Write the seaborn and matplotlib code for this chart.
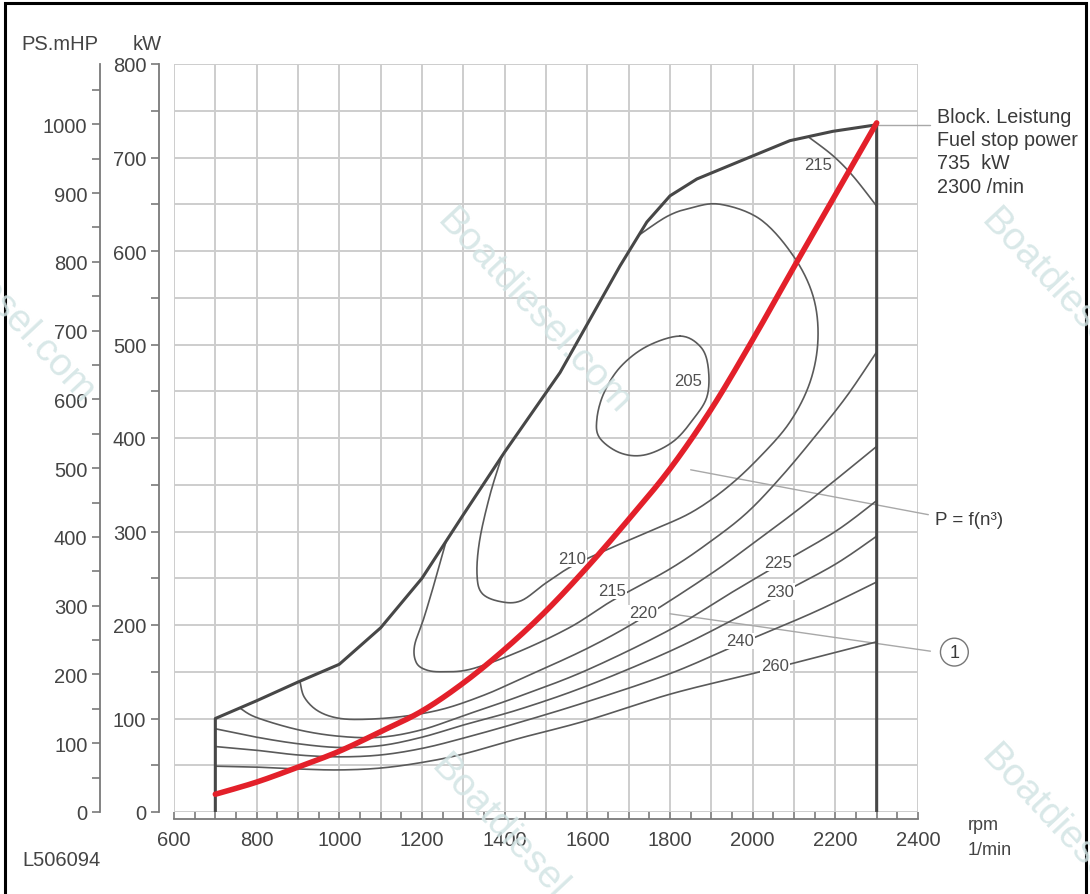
import numpy as np
import matplotlib
matplotlib.use('Agg')
import matplotlib.pyplot as plt
from matplotlib.ticker import MultipleLocator
import seaborn as sns

# full load (fuel stop) boundary, rpm / kW
full_rpm = [700, 700, 800, 900, 1000, 1100, 1200, 1300, 1400, 1534, 1679, 1744, 1800, 1865, 1969, 2090, 2194, 2300, 2300]
full_kw = [0, 100, 119, 139, 158, 197, 250, 318, 385, 470, 584, 631, 659, 677, 696, 718, 728, 735, 0]

# propeller curve P = f(n^3) (red)
prop_rpm = [700, 800, 900, 1000, 1100, 1200, 1300, 1400, 1500, 1600, 1700, 1800, 1900, 2000, 2100, 2200, 2300]
prop_kw = [19, 32, 48, 65, 86, 108, 138, 174, 215, 262, 313, 367, 431, 505, 583, 660, 737]

# specific fuel consumption lines (g/kWh)
c205_rpm = [1824, 1873, 1892, 1890, 1856, 1807, 1740, 1680, 1630, 1623, 1640, 1680, 1744, 1824]
c205_kw = [509, 498, 477, 445, 420, 396, 382, 384, 400, 420, 448, 476, 498, 509]

c210_rpm = [1393, 1365, 1340, 1333, 1345, 1390, 1440, 1500, 1563, 1650, 1744, 1850, 1938, 2018, 2090, 2139, 2158, 2146, 2098, 2018, 1921, 1850, 1793, 1725]
c210_kw = [380, 340, 292, 255, 234, 225, 226, 245, 263, 281, 299, 320, 347, 380, 417, 460, 506, 552, 595, 634, 650, 646, 637, 617]

c215_rpm = [1258, 1232, 1205, 1182, 1186, 1210, 1250, 1320, 1437, 1560, 1660, 1800, 1900, 1986, 2066, 2146, 2228, 2300]
c215_kw = [289, 248, 208, 178, 160, 152, 150, 153, 172, 198, 226, 260, 290, 320, 357, 399, 445, 492]

c215b_rpm = [2135, 2194, 2243, 2300]
c215b_kw = [722, 702, 680, 648]

c220_rpm = [905, 915, 945, 990, 1050, 1150, 1250, 1350, 1437, 1600, 1735, 1900, 2000, 2100, 2200, 2300]
c220_kw = [139, 123, 109, 101, 99, 102, 110, 125, 142, 175, 208, 255, 287, 320, 355, 391]

c225_rpm = [760, 800, 900, 1000, 1100, 1200, 1300, 1437, 1600, 1800, 1950, 2061, 2200, 2300]
c225_kw = [111, 101, 88, 81, 80, 88, 103, 124, 152, 195, 235, 264, 300, 333]

c230_rpm = [700, 800, 900, 1000, 1100, 1200, 1300, 1437, 1600, 1800, 1950, 2066, 2200, 2300]
c230_kw = [89, 80, 73, 69, 71, 80, 93, 110, 135, 172, 205, 233, 265, 295]

c240_rpm = [700, 800, 900, 1000, 1100, 1200, 1300, 1437, 1600, 1800, 1969, 2150, 2300]
c240_kw = [70, 66, 61, 59, 61, 68, 79, 96, 118, 148, 180, 214, 246]

c260_rpm = [700, 800, 900, 1000, 1100, 1200, 1300, 1437, 1600, 1800, 2000, 2150, 2300]
c260_kw = [49, 48, 46, 45, 47, 53, 62, 79, 98, 126, 148, 165, 182]

# contour labels
lab_text = ['205', '210', '215', '220', '225', '230', '240', '260', '215']
lab_rpm = [1844, 1563, 1660, 1735, 2061, 2066, 1969, 2054, 2158]
lab_kw = [461, 271, 237, 213, 267, 236, 183, 157, 693]
lab_box = [False, True, True, True, True, True, True, True, False]

x_ticks = [600, 800, 1000, 1200, 1400, 1600, 1800, 2000, 2200, 2400]
kw_ticks = [0, 100, 200, 300, 400, 500, 600, 700, 800]
ps_ticks = [0, 100, 200, 300, 400, 500, 600, 700, 800, 900, 1000]

block_text = 'Block. Leistung\nFuel stop power\n735  kW\n2300 /min'
watermark = 'Boatdiesel.com'


def smooth(xs, ys, closed=False, n=16):
    # catmull-rom through the read points, for drawing only
    pts = np.column_stack([xs, ys]).astype(float)
    if closed:
        p = np.vstack([pts[-2], pts, pts[1]])
    else:
        p = np.vstack([pts[0], pts, pts[-1]])
    out = []
    t = np.linspace(0, 1, n, endpoint=False)[:, None]
    for i in range(1, len(p) - 2):
        p0, p1, p2, p3 = p[i - 1], p[i], p[i + 1], p[i + 2]
        seg = 0.5 * (2 * p1 + (-p0 + p2) * t + (2 * p0 - 5 * p1 + 4 * p2 - p3) * t ** 2
                     + (-p0 + 3 * p1 - 3 * p2 + p3) * t ** 3)
        out.append(seg)
    out.append(pts[-1:])
    out = np.vstack(out)
    return out[:, 0], out[:, 1]


sns.set_theme(style='white')
plt.rcParams['font.family'] = ['Liberation Sans', 'DejaVu Sans']

W, H = 1090, 895
fig = plt.figure(figsize=(W / 100, H / 100), dpi=100)
fig.patch.set_facecolor('white')
ax = fig.add_axes([174 / W, 1 - 813 / H, 744 / W, 748 / H])
ax.set_xlim(600, 2400)
ax.set_ylim(0, 800)

grid_c = '#cdcdcd'
ax.vlines(np.arange(600, 2401, 100), 0, 800, color=grid_c, lw=1.4, zorder=1)
ax.hlines(np.arange(0, 801, 50), 600, 2400, color=grid_c, lw=1.4, zorder=1)

line_c = '#5a5a5a'
for rx, ky in [(c210_rpm, c210_kw), (c215_rpm, c215_kw), (c215b_rpm, c215b_kw),
               (c220_rpm, c220_kw), (c225_rpm, c225_kw), (c230_rpm, c230_kw),
               (c240_rpm, c240_kw), (c260_rpm, c260_kw)]:
    sx, sy = smooth(rx, ky)
    sns.lineplot(x=sx, y=sy, sort=False, estimator=None, color=line_c, lw=1.2, ax=ax, zorder=3)
sx, sy = smooth(c205_rpm, c205_kw, closed=True)
sns.lineplot(x=sx, y=sy, sort=False, estimator=None, color=line_c, lw=1.2, ax=ax, zorder=3)

sns.lineplot(x=full_rpm, y=full_kw, sort=False, estimator=None, color='#474747', lw=2.2, ax=ax, zorder=4)

for t, r, k, b in zip(lab_text, lab_rpm, lab_kw, lab_box):
    bbox = dict(boxstyle='square,pad=0.05', fc='white', ec='none') if b else None
    ax.text(r, k, t, fontsize=12, color='#505050', ha='center', va='center', bbox=bbox, zorder=5)

# leader lines to the notes on the right
lead_c = '#a8a8a8'
ax.plot([1850, 2425], [366, 318], color=lead_c, lw=1.0, clip_on=False, zorder=2)
ax.plot([1800, 2430], [212, 172], color=lead_c, lw=1.0, clip_on=False, zorder=2)
ax.plot([2300, 2430], [735, 735], color=lead_c, lw=1.0, clip_on=False, zorder=2)

ax.text(2440, 313, 'P = f(n³)', fontsize=13.5, color='#3a3a3a', va='center', ha='left', clip_on=False)
ax.text(2488, 171, '1', fontsize=13, color='#3a3a3a', va='center', ha='center', clip_on=False,
        bbox=dict(boxstyle='circle,pad=0.3', fc='white', ec='#777777', lw=1.0))
ax.text(2445, 754, block_text, fontsize=14.2, color='#3a3a3a', va='top', ha='left',
        linespacing=1.28, clip_on=False)

sx, sy = smooth(prop_rpm, prop_kw)
sns.lineplot(x=sx, y=sy, sort=False, estimator=None, color='#e3202a', lw=4, ax=ax, zorder=6)

# axes styling
ax.grid(False)
for s in ['top', 'right']:
    ax.spines[s].set_visible(False)
ax.spines['left'].set_position(('outward', 11))
ax.spines['bottom'].set_position(('outward', 5))
for s in ['left', 'bottom']:
    ax.spines[s].set_color('#7a7a7a')
    ax.spines[s].set_linewidth(1.3)

ax.set_xticks(x_ticks)
ax.xaxis.set_minor_locator(MultipleLocator(50))
ax.set_yticks(kw_ticks)
ax.yaxis.set_minor_locator(MultipleLocator(50))
ax.tick_params(axis='x', which='both', direction='in', length=5, width=1.2, color='#7a7a7a',
               labelsize=14.5, labelcolor='#444444', pad=8, bottom=True)
ax.tick_params(axis='y', which='both', direction='out', length=6, width=1.2, color='#7a7a7a',
               labelsize=14.5, labelcolor='#444444', pad=3, left=True)
ax.set_xlabel('')
ax.set_ylabel('')

ps = ax.secondary_yaxis(-0.0995, functions=(lambda k: k * 1.35962, lambda p: p / 1.35962))
ps.set_yticks(ps_ticks)
ps.yaxis.set_minor_locator(MultipleLocator(50))
ps.tick_params(axis='y', which='both', direction='out', length=6, width=1.2, color='#7a7a7a',
               labelsize=14.5, labelcolor='#444444', pad=3)
ps.spines['left'].set_color('#7a7a7a')
ps.spines['left'].set_linewidth(1.3)

# header / footer texts
fig.text(60 / W, 1 - 45 / H, 'PS.mHP', fontsize=14.5, color='#444444', ha='center', va='center')
fig.text(147 / W, 1 - 45 / H, 'kW', fontsize=14.5, color='#444444', ha='center', va='center')
fig.text(968 / W, 1 - 826 / H, 'rpm', fontsize=13, color='#444444', ha='left', va='center')
fig.text(968 / W, 1 - 851 / H, '1/min', fontsize=13, color='#444444', ha='left', va='center')
fig.text(22 / W, 1 - 861 / H, 'L506094', fontsize=14.5, color='#444444', ha='left', va='center')

# faint watermarks
for px, py in [(436, 222), (980, 222), (980, 758), (430, 768), (-100, 212)]:
    fig.text(px / W, 1 - py / H, watermark, fontsize=28, color='#d2e4e4', alpha=0.85,
             rotation=-47, rotation_mode='anchor', ha='left', va='baseline', zorder=10)

# frame around the picture
fig.patches.append(plt.Rectangle((0.005, -0.01), 0.991, 1.006, transform=fig.transFigure,
                                 fill=False, ec='black', lw=2.2))

fig.savefig('out.png', dpi=100)
